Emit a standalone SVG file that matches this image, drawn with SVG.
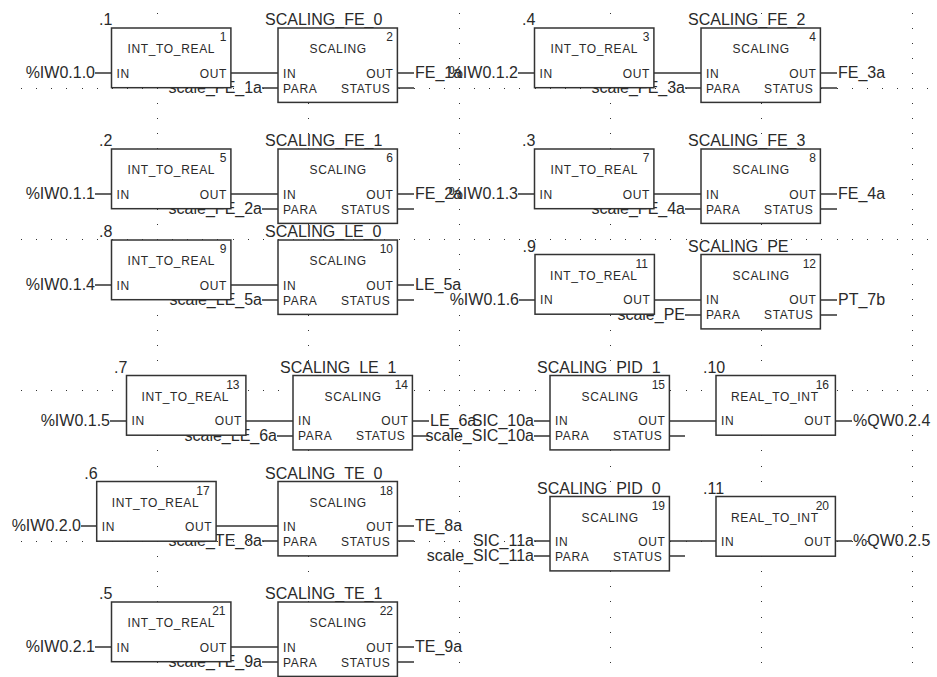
<svg xmlns="http://www.w3.org/2000/svg" width="937" height="677" viewBox="0 0 937 677">
<style>
text{font-family:"Liberation Sans",Arial,sans-serif;fill:#2a2a2a}
.l{font-size:16px;transform:translateY(-.6px)}
.e{text-anchor:end}
.p{font-size:12px;letter-spacing:.65px}
.n{font-size:12px;text-anchor:end}
.b{fill:#fff;stroke:#333;stroke-width:1.5}
#wires path{fill:none;stroke:#333;stroke-width:1.5}
</style>
<defs>
<pattern id="grid" patternUnits="userSpaceOnUse" x="6" y="-63" width="151" height="151">
<path fill="#333" d="M0 15h1v1h-1zM0 30h1v1h-1zM0 45h1v1h-1zM0 60h1v1h-1zM0 76h1v1h-1zM0 91h1v1h-1zM0 106h1v1h-1zM0 121h1v1h-1zM0 136h1v1h-1zM0 0h1v1h-1zM15 0h1v1h-1zM30 0h1v1h-1zM45 0h1v1h-1zM60 0h1v1h-1zM76 0h1v1h-1zM91 0h1v1h-1zM106 0h1v1h-1zM121 0h1v1h-1zM136 0h1v1h-1z"/>
</pattern>
<g id="int"><rect class="b" width="119.4" height="59.7"/><text class="p" x="5" y="49.5">IN</text><text class="p e" x="115.5" y="49.5">OUT</text></g>
<g id="sc"><rect class="b" width="119.4" height="74.4"/><text class="p" x="31.5" y="25">SCALING</text><text class="p" x="5" y="49.5">IN</text><text class="p e" x="115.5" y="49.5">OUT</text><text class="p" x="5" y="64.5">PARA</text><text class="p e" x="112.5" y="64.5">STATUS</text></g>
</defs>
<rect width="937" height="677" fill="#fff"/>
<rect x="15" y="0" width="922" height="677" fill="url(#grid)"/>
<g id="wires">
<path d="M95 73h16M231 73h47M262 88h16M397 73h17M397 88h17"/>
<path d="M518 73h17M654 73h47M685 88h16M820 73h17M820 88h17"/>
<path d="M95 194h16M231 194h47M262 209h16M397 194h17M397 209h17"/>
<path d="M518 194h17M654 194h47M685 209h16M820 194h17M820 209h17"/>
<path d="M95 285h16M231 285h47M262 300h16M397 285h17M397 300h17"/>
<path d="M519 300h16M654 300h47M685 315h16M820 300h17M820 315h17"/>
<path d="M110 421h16M246 421h47M277 436h16M412 421h17M412 436h17"/>
<path d="M534 421h16M534 436h16M669 421h47M669 436h16M835 421h17"/>
<path d="M81 526h16M216 526h62M262 541h16M397 526h17M397 541h17"/>
<path d="M534 541h16M534 556h16M669 541h47M669 556h16M835 541h17"/>
<path d="M95 647h16M231 647h47M262 662h16M397 647h17M397 662h17"/>
</g>
<g id="labels">
<text class="l e" x="95" y="79">%IW0.1.0</text><text class="l e" x="262" y="94">scale_FE_1a</text><text class="l" x="415" y="79">FE_1a</text>
<text class="l e" x="518" y="79">%IW0.1.2</text><text class="l e" x="685" y="94">scale_FE_3a</text><text class="l" x="838" y="79">FE_3a</text>
<text class="l e" x="95" y="200">%IW0.1.1</text><text class="l e" x="262" y="215">scale_FE_2a</text><text class="l" x="415" y="200">FE_2a</text>
<text class="l e" x="518" y="200">%IW0.1.3</text><text class="l e" x="685" y="215">scale_FE_4a</text><text class="l" x="838" y="200">FE_4a</text>
<text class="l e" x="95" y="291">%IW0.1.4</text><text class="l e" x="262" y="306">scale_LE_5a</text><text class="l" x="415" y="291">LE_5a</text>
<text class="l e" x="519" y="306">%IW0.1.6</text><text class="l e" x="685" y="321">scale_PE</text><text class="l" x="838" y="306">PT_7b</text>
<text class="l e" x="110" y="427">%IW0.1.5</text><text class="l e" x="277" y="442">scale_LE_6a</text><text class="l" x="430" y="427">LE_6a</text>
<text class="l e" x="534" y="427">SIC_10a</text><text class="l e" x="534" y="442">scale_SIC_10a</text><text class="l" x="853" y="427">%QW0.2.4</text>
<text class="l e" x="81" y="532">%IW0.2.0</text><text class="l e" x="262" y="547">scale_TE_8a</text><text class="l" x="415" y="532">TE_8a</text>
<text class="l e" x="534" y="547">SIC_11a</text><text class="l e" x="534" y="562">scale_SIC_11a</text><text class="l" x="853" y="547">%QW0.2.5</text>
<text class="l e" x="95" y="653">%IW0.2.1</text><text class="l e" x="262" y="668">scale_TE_9a</text><text class="l" x="415" y="653">TE_9a</text>
</g>
<g id="n1" transform="translate(111.5 28)"><text class="l" x="-12.5" y="-2">.1</text><use href="#int"/><text class="p" x="16" y="25">INT_TO_REAL</text><text class="n" x="115" y="13">1</text></g>
<g id="n2" transform="translate(278 28)"><text class="l" x="-13" y="-2">SCALING_FE_0</text><use href="#sc"/><text class="n" x="115" y="13">2</text></g>
<g id="n3" transform="translate(534.5 28)"><text class="l" x="-12.5" y="-2">.4</text><use href="#int"/><text class="p" x="16" y="25">INT_TO_REAL</text><text class="n" x="115" y="13">3</text></g>
<g id="n4" transform="translate(701 28)"><text class="l" x="-13" y="-2">SCALING_FE_2</text><use href="#sc"/><text class="n" x="115" y="13">4</text></g>
<g id="n5" transform="translate(111.5 149)"><text class="l" x="-12.5" y="-2">.2</text><use href="#int"/><text class="p" x="16" y="25">INT_TO_REAL</text><text class="n" x="115" y="13">5</text></g>
<g id="n6" transform="translate(278 149)"><text class="l" x="-13" y="-2">SCALING_FE_1</text><use href="#sc"/><text class="n" x="115" y="13">6</text></g>
<g id="n7" transform="translate(534.5 149)"><text class="l" x="-12.5" y="-2">.3</text><use href="#int"/><text class="p" x="16" y="25">INT_TO_REAL</text><text class="n" x="115" y="13">7</text></g>
<g id="n8" transform="translate(701 149)"><text class="l" x="-13" y="-2">SCALING_FE_3</text><use href="#sc"/><text class="n" x="115" y="13">8</text></g>
<g id="n9" transform="translate(111.5 240)"><text class="l" x="-12.5" y="-2">.8</text><use href="#int"/><text class="p" x="16" y="25">INT_TO_REAL</text><text class="n" x="115" y="13">9</text></g>
<g id="n10" transform="translate(278 240)"><text class="l" x="-13" y="-2">SCALING_LE_0</text><use href="#sc"/><text class="n" x="115" y="13">10</text></g>
<g id="n11" transform="translate(535 254.5)"><text class="l" x="-12.5" y="-2">.9</text><use href="#int"/><text class="p" x="15" y="25">INT_TO_REAL</text><text class="n" x="113" y="13">11</text></g>
<g id="n12" transform="translate(701 254.5)"><text class="l" x="-13" y="-2">SCALING_PE</text><use href="#sc"/><text class="n" x="115" y="13">12</text></g>
<g id="n13" transform="translate(126.5 375.5)"><text class="l" x="-12.5" y="-2">.7</text><use href="#int"/><text class="p" x="15" y="25">INT_TO_REAL</text><text class="n" x="113" y="13">13</text></g>
<g id="n14" transform="translate(293 375.5)"><text class="l" x="-13" y="-2">SCALING_LE_1</text><use href="#sc"/><text class="n" x="115" y="13">14</text></g>
<g id="n15" transform="translate(550 375.5)"><text class="l" x="-13" y="-2">SCALING_PID_1</text><use href="#sc"/><text class="n" x="115" y="13">15</text></g>
<g id="n16" transform="translate(716 375.5)"><text class="l" x="-13" y="-2">.10</text><use href="#int"/><text class="p" x="15" y="25">REAL_TO_INT</text><text class="n" x="113" y="13">16</text></g>
<g id="n17" transform="translate(96.7 481.5)"><text class="l" x="-12.5" y="-2">.6</text><use href="#int"/><text class="p" x="15" y="25">INT_TO_REAL</text><text class="n" x="113" y="13">17</text></g>
<g id="n18" transform="translate(278 481.5)"><text class="l" x="-13" y="-2">SCALING_TE_0</text><use href="#sc"/><text class="n" x="115" y="13">18</text></g>
<g id="n19" transform="translate(550 496.5)"><text class="l" x="-13" y="-2">SCALING_PID_0</text><use href="#sc"/><text class="n" x="115" y="13">19</text></g>
<g id="n20" transform="translate(716 496.5)"><text class="l" x="-13" y="-2">.11</text><use href="#int"/><text class="p" x="15" y="25">REAL_TO_INT</text><text class="n" x="113" y="13">20</text></g>
<g id="n21" transform="translate(111.5 602)"><text class="l" x="-12.5" y="-2">.5</text><use href="#int"/><text class="p" x="16" y="25">INT_TO_REAL</text><text class="n" x="114" y="13">21</text></g>
<g id="n22" transform="translate(278 602)"><text class="l" x="-13" y="-2">SCALING_TE_1</text><use href="#sc"/><text class="n" x="115" y="13">22</text></g>
</svg>
